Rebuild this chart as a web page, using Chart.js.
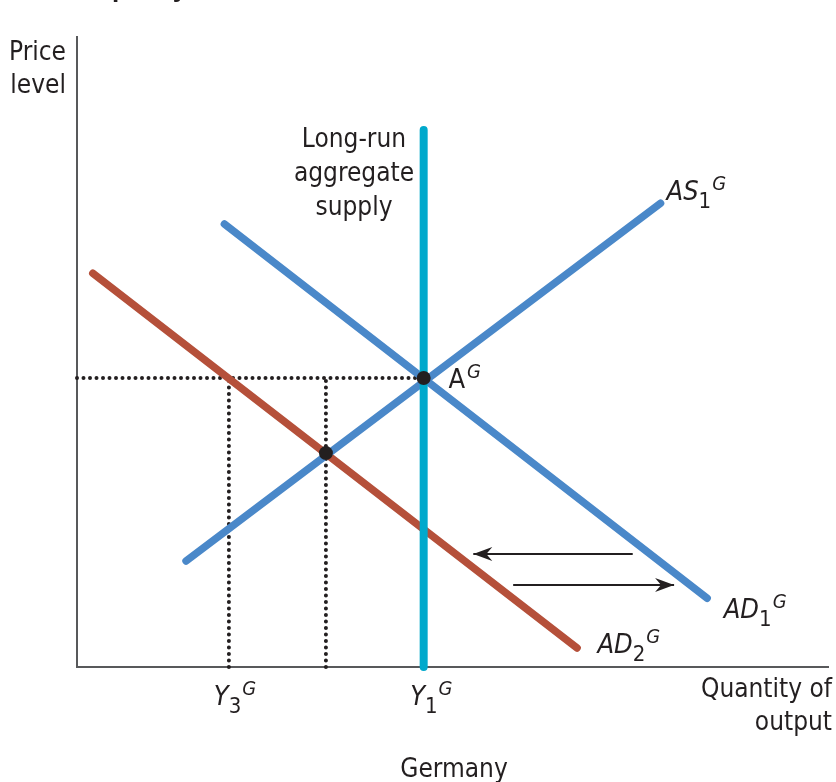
<!DOCTYPE html>
<html>
<head>
<meta charset="utf-8">
<script src="https://cdn.jsdelivr.net/npm/chart.js@4.4.1/dist/chart.umd.min.js"></script>
<style>
  html, body { margin: 0; padding: 0; background: #fff; }
  #wrap { width: 836px; height: 782px; position: relative; }
</style>
</head>
<body>
<div id="wrap"><canvas id="adas"></canvas></div>
<script>
// === AD-AS DIAGRAM (GERMANY) ===
// Values; both axes run 0..100 (arbitrary units).

var xRange = [0, 100];
var yRange = [0, 100];

// Long-run aggregate supply (vertical at Y1)
var lrasX = [46.1, 46.1];
var lrasY = [0, 85.1];

// Short-run aggregate supply AS1
var as1X = [14.5, 77.6];
var as1Y = [16.8, 73.5];

// Aggregate demand AD1 and shifted AD2
var ad1X = [19.6, 83.8];
var ad1Y = [70.2, 10.9];
var ad2X = [2.1, 66.5];
var ad2Y = [62.4, 3.0];

// Equilibrium points: A^G and the new short-run point
var eqX = [46.1, 33.1];
var eqY = [45.8, 33.9];

// Output levels marked on the x axis
var y3 = 20.2;
var y1 = 46.1;
var pA = 45.8;

// Shift arrows (left = demand falls, right = back again)
var arrowLeftX = [73.9, 52.7];
var arrowLeftY = [17.9, 17.9];
var arrowRightX = [58.0, 79.4];
var arrowRightY = [13.0, 13.0];

var INK = '#231f20';
var BLUE = '#4a88c9';
var RED = '#b5503a';
var CYAN = '#00a9cc';
var FONT = "'Liberation Sans Narrow', 'DejaVu Sans Condensed', 'Arial Narrow', sans-serif";

function pts(xs, ys) {
  return xs.map(function(x, i) { return { x: x, y: ys[i] }; });
}

function lineSet(data, color, width, extra) {
  var ds = {
    type: 'scatter',
    data: data,
    showLine: true,
    borderColor: color,
    borderWidth: width,
    borderCapStyle: 'round',
    pointRadius: 0,
    clip: false
  };
  for (var k in extra) ds[k] = extra[k];
  return ds;
}

// Curve labels: anchor in data units, rich text pieces
var curveLabels = [
  { x: 78.4, y: 74.0, main: 'AS', sub: '1', sup: 'G', italic: true },
  { x: 49.4, y: 44.2, main: 'A', sub: '', sup: 'G', italic: false },
  { x: 86.0, y: 7.8, main: 'AD', sub: '1', sup: 'G', italic: true },
  { x: 69.2, y: 2.2, main: 'AD', sub: '2', sup: 'G', italic: true },
  { x: 18.2, y: -6.0, main: 'Y', sub: '3', sup: 'G', italic: true },
  { x: 44.3, y: -6.0, main: 'Y', sub: '1', sup: 'G', italic: true }
];

function drawRich(ctx, x, y, l) {
  ctx.textAlign = 'left';
  ctx.textBaseline = 'alphabetic';
  ctx.font = (l.italic ? 'italic ' : '') + '27px ' + FONT;
  ctx.fillText(l.main, x, y);
  x += ctx.measureText(l.main).width;
  if (l.sub) {
    ctx.font = '22px ' + FONT;
    ctx.fillText(l.sub, x, y + 8);
    x += ctx.measureText(l.sub).width + 1;
  } else {
    x += 2;
  }
  ctx.font = 'italic 20px ' + FONT;
  ctx.fillText(l.sup, x, y - 10);
}

function drawHead(ctx, x0, y0, x1, y1) {
  var ang = Math.atan2(y1 - y0, x1 - x0);
  ctx.save();
  ctx.translate(x1, y1);
  ctx.rotate(ang);
  ctx.beginPath();
  ctx.moveTo(0, 0);
  ctx.lineTo(-19, -7);
  ctx.lineTo(-13, 0);
  ctx.lineTo(-19, 7);
  ctx.closePath();
  ctx.fill();
  ctx.restore();
}

var annotations = {
  id: 'annotations',
  afterDatasetsDraw: function(chart) {
    var ctx = chart.ctx;
    var sx = chart.scales.x, sy = chart.scales.y;
    ctx.save();
    ctx.fillStyle = INK;

    // arrowheads on the shift arrows
    chart.data.datasets.forEach(function(ds) {
      if (!ds.arrow) return;
      var a = ds.data[ds.data.length - 2], b = ds.data[ds.data.length - 1];
      drawHead(ctx, sx.getPixelForValue(a.x), sy.getPixelForValue(a.y),
        sx.getPixelForValue(b.x), sy.getPixelForValue(b.y));
    });

    curveLabels.forEach(function(l) {
      drawRich(ctx, sx.getPixelForValue(l.x), sy.getPixelForValue(l.y), l);
    });

    ctx.font = '26px ' + FONT;
    ctx.textBaseline = 'alphabetic';

    // LRAS caption
    ctx.textAlign = 'center';
    ctx.fillText('Long-run', 354, 147);
    ctx.fillText('aggregate', 354, 181);
    ctx.fillText('supply', 354, 215);

    // axis titles
    ctx.textAlign = 'right';
    ctx.fillText('Price', 66, 60);
    ctx.fillText('level', 66, 93);
    ctx.fillText('Quantity of', 832, 697);
    ctx.fillText('output', 832, 730);

    ctx.textAlign = 'center';
    ctx.fillText('Germany', 454, 777);

    // bottom of the cropped title above the panel (only descenders show)
    ctx.textAlign = 'left';
    ctx.font = 'bold 26px "Liberation Sans", sans-serif';
    ctx.fillText('policy', 112, -3);
    ctx.restore();
  }
};

var datasets = [
  {
    type: 'scatter',
    data: pts(eqX, eqY),
    pointRadius: 7,
    pointBackgroundColor: INK,
    pointBorderWidth: 0,
    clip: false
  },
  lineSet(pts(lrasX, lrasY), CYAN, 8),
  lineSet(pts(as1X, as1Y), BLUE, 7.5),
  lineSet(pts(ad1X, ad1Y), BLUE, 7.5),
  lineSet(pts(ad2X, ad2Y), RED, 7.5),
  lineSet(pts(arrowLeftX, arrowLeftY), INK, 2, { arrow: true, borderCapStyle: 'butt' }),
  lineSet(pts(arrowRightX, arrowRightY), INK, 2, { arrow: true, borderCapStyle: 'butt' }),
  // dotted guides
  lineSet([{ x: xRange[0], y: pA }, { x: y1, y: pA }], INK, 4, { borderDash: [0, 6.5] }),
  lineSet([{ x: y3, y: yRange[0] }, { x: y3, y: pA }], INK, 4, { borderDash: [0, 6.5] }),
  lineSet([{ x: eqX[1], y: yRange[0] }, { x: eqX[1], y: pA }], INK, 4, { borderDash: [0, 6.5] }),
  // axes
  lineSet([{ x: xRange[0], y: yRange[1] }, { x: xRange[0], y: yRange[0] }, { x: xRange[1], y: yRange[0] }],
    '#58595b', 2, { borderCapStyle: 'butt' })
];

new Chart(document.getElementById('adas'), {
  type: 'scatter',
  data: { datasets: datasets },
  options: {
    responsive: true,
    maintainAspectRatio: false,
    animation: false,
    events: [],
    layout: { padding: { left: 77, right: 0, top: 36, bottom: 115 } },
    plugins: { legend: { display: false }, tooltip: { enabled: false } },
    scales: {
      x: { type: 'linear', min: xRange[0], max: xRange[1], display: false },
      y: { type: 'linear', min: yRange[0], max: yRange[1], display: false }
    }
  },
  plugins: [annotations]
});
</script>
</body>
</html>
